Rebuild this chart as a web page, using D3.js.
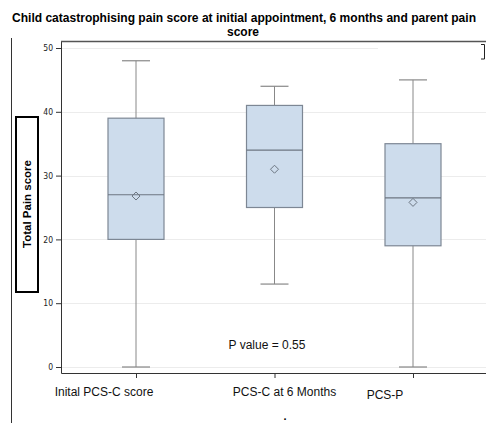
<!DOCTYPE html>
<html>
<head>
<meta charset="utf-8">
<script src="https://cdn.jsdelivr.net/npm/d3@7"></script>
<style>
	body { margin: 0; background: #fff; }
	svg { display: block; font-family: "Liberation Sans", Arial, sans-serif; }
</style>
</head>
<body>
<script>
'use strict'

// data
const categories = ['Inital PCS-C score', 'PCS-C at 6 Months', 'PCS-P'];
const whiskerLow = [0, 13, 0];
const q1 = [20, 25, 19];
const medians = [27, 34, 26.5];
const q3 = [39, 41, 35];
const whiskerHigh = [48, 44, 45];
const means = [26.8, 31, 25.8];
const yTicks = [0, 10, 20, 30, 40, 50];

;(() => {
	const W = 486, H = 423;
	const frame = { left: 61, top: 41, right: 486, bottom: 373 };
	const boxW = 56, capW = 28;
	// category labels are not centred under their ticks in the original
	const labelShift = [-32, 10, -28];

	const svg = d3.select('body').append('svg')
		.attr('width', W)
		.attr('height', H);

	const x = d3.scalePoint().domain(categories).range([136, 413]);
	const y = d3.scaleLinear().domain([0, 50]).range([367, 48]);

	const rows = categories.map((c, i) => ({
		cat: c, lo: whiskerLow[i], q1: q1[i], med: medians[i], q3: q3[i], hi: whiskerHigh[i], mean: means[i], i: i
	}));

	// title
	svg.append('text')
		.attr('x', 244).attr('y', 22)
		.attr('text-anchor', 'middle')
		.style('font-weight', 'bold').style('font-size', '12px')
		.attr('textLength', 464).attr('lengthAdjust', 'spacingAndGlyphs')
		.text('Child catastrophising pain score at initial appointment, 6 months and parent pain');
	svg.append('text')
		.attr('x', 243).attr('y', 36)
		.attr('text-anchor', 'middle')
		.style('font-weight', 'bold').style('font-size', '12px')
		.text('score');

	// outer left rule
	svg.append('line')
		.attr('x1', 11.5).attr('x2', 11.5).attr('y1', 38).attr('y2', H)
		.attr('stroke', '#333').attr('stroke-width', 1);

	// gridlines
	svg.append('g').selectAll('line')
		.data(yTicks)
		.enter().append('line')
		.attr('x1', frame.left).attr('x2', d => d === 50 ? 378 : frame.right)
		.attr('y1', d => Math.round(y(d)) + 0.5).attr('y2', d => Math.round(y(d)) + 0.5)
		.attr('stroke', '#ececec').attr('stroke-width', 1);

	// y axis
	const yAxis = svg.append('g')
		.attr('transform', `translate(${frame.left},0)`)
		.call(d3.axisLeft(y).tickValues(yTicks).tickSize(5).tickPadding(3));
	yAxis.select('.domain').remove();
	yAxis.selectAll('.tick line').attr('stroke', '#333');
	yAxis.selectAll('.tick text')
		.attr('fill', '#222')
		.style('font-family', '"DejaVu Sans Condensed", "DejaVu Sans", sans-serif')
		.style('font-size', '8.5px');

	// x axis
	const xAxis = svg.append('g')
		.attr('transform', `translate(0,${frame.bottom})`)
		.call(d3.axisBottom(x).tickSize(5).tickFormat(''));
	xAxis.select('.domain').remove();
	xAxis.selectAll('.tick line').attr('stroke', '#333');

	// frame
	svg.append('path')
		.attr('d', `M${frame.left + 0.5},${frame.top}V${frame.bottom + 0.5}H${frame.right}`)
		.attr('fill', 'none').attr('stroke', '#333');
	svg.append('line')
		.attr('x1', frame.left).attr('x2', frame.right)
		.attr('y1', frame.top + 0.5).attr('y2', frame.top + 0.5)
		.attr('stroke', '#555').attr('stroke-width', 1.5);
	svg.append('path')
		.attr('d', 'M481,44.5H484.5V59H481')
		.attr('fill', 'none').attr('stroke', '#222');

	// category labels
	svg.append('g').selectAll('text')
		.data(rows)
		.enter().append('text')
		.attr('x', d => x(d.cat) + labelShift[d.i])
		.attr('y', d => d.i === 2 ? 399 : 396)
		.attr('text-anchor', 'middle')
		.attr('fill', '#111')
		.style('font-size', '12px')
		.text(d => d.cat);

	// boxes
	const g = svg.append('g').selectAll('g')
		.data(rows)
		.enter().append('g');

	g.append('line')
		.attr('x1', d => x(d.cat)).attr('x2', d => x(d.cat))
		.attr('y1', d => y(d.lo)).attr('y2', d => y(d.hi))
		.attr('stroke', '#888');
	g.selectAll('line.cap')
		.data(d => [{ c: d.cat, v: d.lo }, { c: d.cat, v: d.hi }])
		.enter().append('line')
		.classed('cap', true)
		.attr('x1', d => x(d.c) - capW / 2).attr('x2', d => x(d.c) + capW / 2)
		.attr('y1', d => y(d.v)).attr('y2', d => y(d.v))
		.attr('stroke', '#888').attr('stroke-width', 1.2);
	g.append('rect')
		.attr('x', d => x(d.cat) - boxW / 2)
		.attr('width', boxW)
		.attr('y', d => y(d.q3))
		.attr('height', d => y(d.q1) - y(d.q3))
		.attr('fill', '#cddcec')
		.attr('stroke', '#7d8794').attr('stroke-width', 1.2);
	g.append('line')
		.attr('x1', d => x(d.cat) - boxW / 2).attr('x2', d => x(d.cat) + boxW / 2)
		.attr('y1', d => y(d.med)).attr('y2', d => y(d.med))
		.attr('stroke', '#6c7682').attr('stroke-width', 1.2);
	g.append('path')
		.attr('d', d => {
			const cx = x(d.cat), cy = y(d.mean);
			return `M${cx},${cy - 4}L${cx + 4},${cy}L${cx},${cy + 4}L${cx - 4},${cy}Z`;
		})
		.attr('fill', 'none').attr('stroke', '#6c7682').attr('stroke-width', 1);

	// y label in box
	svg.append('rect')
		.attr('x', 16).attr('y', 117).attr('width', 22).attr('height', 175)
		.attr('fill', '#fff').attr('stroke', '#000').attr('stroke-width', 2);
	svg.append('text')
		.attr('transform', 'translate(31,204) rotate(-90)')
		.attr('text-anchor', 'middle')
		.style('font-weight', 'bold').style('font-size', '11.5px')
		.text('Total Pain score');

	// p value note
	svg.append('text')
		.attr('x', 267).attr('y', 349)
		.attr('text-anchor', 'middle')
		.attr('fill', '#111')
		.style('font-size', '12px')
		.text('P value = 0.55');

	// stray dot under the axis
	svg.append('text')
		.attr('x', 285).attr('y', 420)
		.attr('text-anchor', 'middle')
		.style('font-size', '11px')
		.style('font-weight', 'bold')
		.text('.');
})();
</script>
</body>
</html>
